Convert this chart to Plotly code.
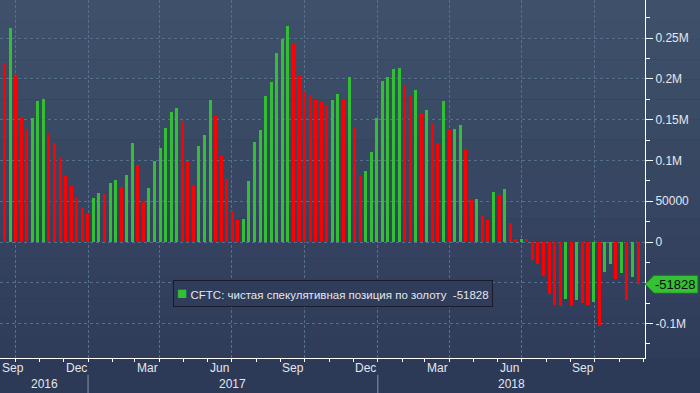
import pandas as pd
import plotly.graph_objects as go

# ---------------- data ----------------
start_date = "2016-09-16"
net_position = [
    218800, 262000, 204000, 152700, 137000, 151900, 172700, 176000, 132000, 121000,
    103000, 81000, 68600, 53900, 41600, 34700, 53900, 60000, 59500, 72300,
    76000, 67000, 82000, 121000, 94000, 50000, 66000, 99000, 115000, 140000,
    160000, 165000, 148000, 99000, 70000, 117600, 131000, 174000, 154000, 105000,
    77000, 38000, 27000, 28000, 75000, 122500, 138000, 179000, 196000, 231500,
    248700, 264600, 242500, 204000, 185000, 179700, 174800, 172000, 166600, 174000,
    181000, 176000, 203000, 140000, 81000, 87000, 110000, 152000, 197000, 203000,
    212000, 214000, 191000, 180000, 187000, 158000, 162000, 146000, 121000, 173000,
    138000, 138400, 143000, 114000, 51000, 52700, 32000, 27000, 61000, 57600,
    65000, 23000, 3900, 4300, 3600, -22000, -27000, -41600, -63700, -77000,
    -78400, -69800, -78400, -71000, -74700, -77000, -73500, -102900, -36700, -27000,
    -45000, -38000, -71000, -42900, -51828,
]
dates = pd.date_range(start_date, periods=len(net_position), freq="7D")
series_name = "CFTC: чистая спекулятивная позиция по золоту"

y_tickvals = [-100000, -50000, 0, 50000, 100000, 150000, 200000, 250000]
y_ticktext = ["-0.1M", "", "0", "50000", "0.1M", "0.15M", "0.2M", "0.25M"]

quarter_lines = ["2016-10-01", "2017-01-01", "2017-04-01", "2017-07-01", "2017-10-01",
                 "2018-01-01", "2018-04-01", "2018-07-01", "2018-10-01"]
month_labels = ["Sep", "Dec", "Mar", "Jun", "Sep", "Dec", "Mar", "Jun", "Sep"]
years = [2016, 2017, 2018]

x_range = [pd.Timestamp("2016-09-12 02:24"), pd.Timestamp("2018-12-03 12:00")]
y_range = [-142300, 296900]

# ---------------- style ----------------
UP = "#33bf33"
DOWN = "#ff0000"
TXT = "#e4e7ee"
GRID = "#55708d"
FONT = "Liberation Sans, Arial, sans-serif"

colors = [DOWN] + [UP if net_position[i] >= net_position[i - 1] else DOWN
                   for i in range(1, len(net_position))]

DAY = 86400000
bar_w = 3.8 * DAY

fig = go.Figure()
fig.add_trace(go.Bar(
    x=dates, y=net_position, marker_color=colors, marker_line_width=0,
    width=bar_w, offset=-bar_w / 2 + 1.7 * DAY, name=series_name, showlegend=False,
))

# background gradient
top = (63, 81, 106)
bot = (47, 60, 90)
n = 18
shapes = []
for i in range(n):
    t = i / (n - 1)
    c = tuple(round(top[k] + (bot[k] - top[k]) * t) for k in range(3))
    shapes.append(dict(type="rect", xref="paper", yref="paper", x0=0, x1=1.1,
                       y0=1 - (i + 1) / n, y1=1 - i / n, layer="below",
                       line_width=0, fillcolor="rgb(%d,%d,%d)" % c))

# year separators
for yv in years[1:]:
    shapes.append(dict(type="line", xref="x", yref="paper",
                       x0=pd.Timestamp(f"{yv}-01-01"), x1=pd.Timestamp(f"{yv}-01-01"),
                       y0=-0.047, y1=-0.1, line=dict(color="#8d95a8", width=1)))

# last value tag
last = net_position[-1]
shapes.append(dict(type="path", xref="paper", yref="y", xsizemode="pixel", ysizemode="pixel",
                   xanchor=1, yanchor=last,
                   path="M0,0 L9,9 L53,9 L53,-9 L9,-9 Z",
                   fillcolor="#36c036", line=dict(color="#1d6e1d", width=1)))

annotations = []
# month labels
for q, lab in zip(quarter_lines, month_labels):
    pos = pd.Timestamp(q) - pd.Timedelta(days=15)
    if pos - pd.Timedelta(days=14) < x_range[0]:
        annotations.append(dict(x=0, xref="paper", xanchor="left", y=-0.028, yref="paper",
                                yanchor="middle", text=lab, showarrow=False,
                                font=dict(size=12, color=TXT, family=FONT)))
    else:
        annotations.append(dict(x=pos, xref="x", xanchor="center", y=-0.028, yref="paper",
                                yanchor="middle", text=lab, showarrow=False,
                                font=dict(size=12, color=TXT, family=FONT)))
# year labels
for yv in years:
    a = max(pd.Timestamp(f"{yv}-01-01"), x_range[0])
    b = min(pd.Timestamp(f"{yv + 1}-01-01"), x_range[1])
    annotations.append(dict(x=a + (b - a) / 2, xref="x", xanchor="center", y=-0.073, yref="paper",
                            yanchor="middle", text=str(yv), showarrow=False,
                            font=dict(size=12, color=TXT, family=FONT)))
# legend box
annotations.append(dict(
    x=0.268, xref="paper", xanchor="left", y=0.179, yref="paper", yanchor="middle",
    text=f"<span style='color:{UP};font-size:17px'>■</span> {series_name}  {last}",
    showarrow=False, align="left", font=dict(size=11.5, color=TXT, family=FONT),
    bgcolor="rgba(47,60,90,1)", bordercolor="#161c2b", borderwidth=1, borderpad=3,
))
# tag text
annotations.append(dict(x=1, xref="paper", xanchor="left", xshift=8, y=last, yref="y",
                        yanchor="middle", text=str(last), showarrow=False,
                        font=dict(size=13, color="#0d0d0d", family=FONT)))

fig.update_layout(
    width=700, height=393, autosize=False,
    margin=dict(l=0, r=55, t=0, b=35, pad=0),
    paper_bgcolor="#2c3957", plot_bgcolor="rgba(0,0,0,0)",
    bargap=0, showlegend=False,
    shapes=shapes, annotations=annotations,
    font=dict(family=FONT, color=TXT, size=12),
    xaxis=dict(
        type="date", range=x_range, tickmode="array", tickvals=quarter_lines,
        showticklabels=False, ticks="outside", ticklen=3, tickcolor="white",
        showgrid=True, gridcolor=GRID, griddash="3px,2px", gridwidth=1,
        showline=True, linecolor="white", linewidth=1, zeroline=False,
        minor=dict(tickmode="linear", tick0="2016-10-01", dtick="M1", ticks="outside",
                   ticklen=3, tickcolor="white", showgrid=False),
    ),
    yaxis=dict(
        range=y_range, side="right", tickmode="array", tickvals=y_tickvals, ticktext=y_ticktext,
        ticks="outside", ticklen=7, tickcolor="white",
        tickfont=dict(size=12, color=TXT, family=FONT),
        showgrid=True, gridcolor=GRID, griddash="3px,3px", gridwidth=1,
        showline=True, linecolor="white", linewidth=1, zeroline=False,
        minor=dict(tickmode="linear", tick0=0, dtick=25000, ticks="outside", ticklen=4,
                   tickcolor="white", showgrid=False),
    ),
)

fig.write_html("out.html", config={"displayModeBar": False},
               post_script="document.body.style.margin='0';document.body.style.overflow='hidden';")
